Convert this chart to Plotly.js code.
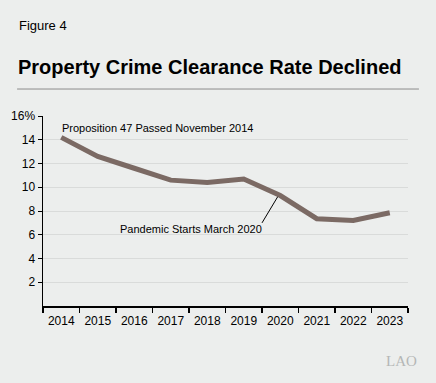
<!DOCTYPE html>
<html><head><meta charset="utf-8">
<script src="https://cdn.plot.ly/plotly-3.0.1.min.js"></script>
<style>html,body{margin:0;padding:0;background:#eceeed;}#chart{width:436px;height:383px;}</style>
</head><body><div id="chart"></div>
<script>
const years = ["2014","2015","2016","2017","2018","2019","2020","2021","2022","2023"];
const clearanceRate = [14.2, 12.6, 11.6, 10.6, 10.4, 10.7, 9.3, 7.35, 7.2, 7.85];
const yTickVals = [2,4,6,8,10,12,14,16];
const yTickText = ["2","4","6","8","10","12","14","16%"];

const font = "Liberation Sans, Arial, Helvetica, sans-serif";

const trace = {
  x: years, y: clearanceRate, type: "scatter", mode: "lines",
  line: {color: "#7b6a64", width: 5}, hoverinfo: "skip"
};

const layout = {
  width: 436, height: 383,
  paper_bgcolor: "#eceeed", plot_bgcolor: "#eceeed",
  margin: {l: 43, r: 28, t: 116, b: 77},
  showlegend: false,
  font: {family: font, size: 12, color: "#000"},
  xaxis: {
    type: "category", range: [-0.5, 9.5], tickson: "boundaries", tickangle: 0,
    ticks: "outside", ticklen: 5, tickwidth: 1.5, ticklabelstandoff: 3,
    tickcolor: "#000", showline: true, linecolor: "#000", linewidth: 2,
    showgrid: false, zeroline: false, tickfont: {size: 12, family: font},
    fixedrange: true
  },
  yaxis: {
    range: [0, 16], tickvals: yTickVals, ticktext: yTickText,
    ticks: "outside", ticklen: 4, tickcolor: "#000", tickwidth: 1,
    showline: true, linecolor: "#000", linewidth: 1.5,
    showgrid: true, gridcolor: "#d9dbda", gridwidth: 1, zeroline: false,
    tickfont: {size: 12, family: font}, fixedrange: true
  },
  shapes: [
    {type: "line", xref: "paper", yref: "paper", x0: -0.071, x1: 1.03, y0: 1.142, y1: 1.142,
     line: {color: "#8c8c8c", width: 1}},
    {type: "line", xref: "x", yref: "y", x0: 5.5, y0: 7.0, x1: 5.93, y1: 9.2,
     line: {color: "#000", width: 1}}
  ],
  annotations: [
    {xref: "paper", yref: "paper", x: -0.071, y: 1.474, xanchor: "left", yanchor: "middle",
     text: "Figure 4", showarrow: false, font: {size: 13, family: font, color: "#000"}},
    {xref: "paper", yref: "paper", x: -0.073, y: 1.26, xanchor: "left", yanchor: "middle",
     text: "<b>Property Crime Clearance Rate Declined</b>", showarrow: false,
     font: {size: 20, family: font, color: "#000"}},
    {xref: "x", yref: "y", x: -0.03, y: 15.0, xanchor: "left", yanchor: "middle",
     text: "Proposition 47 Passed November 2014", showarrow: false,
     font: {size: 11, family: font, color: "#000"}},
    {xref: "x", yref: "y", x: 5.55, y: 6.5, xanchor: "right", yanchor: "middle",
     text: "Pandemic Starts March 2020", showarrow: false,
     font: {size: 11, family: font, color: "#000"}},
    {xref: "paper", yref: "paper", x: 1.03, y: -0.29, xanchor: "right", yanchor: "middle",
     text: "LAO", showarrow: false,
     font: {size: 15, family: "Liberation Serif, Times New Roman, serif", color: "#b5b7b6"}}
  ]
};

Plotly.newPlot("chart", [trace], layout, {displayModeBar: false, staticPlot: true});
</script></body></html>
